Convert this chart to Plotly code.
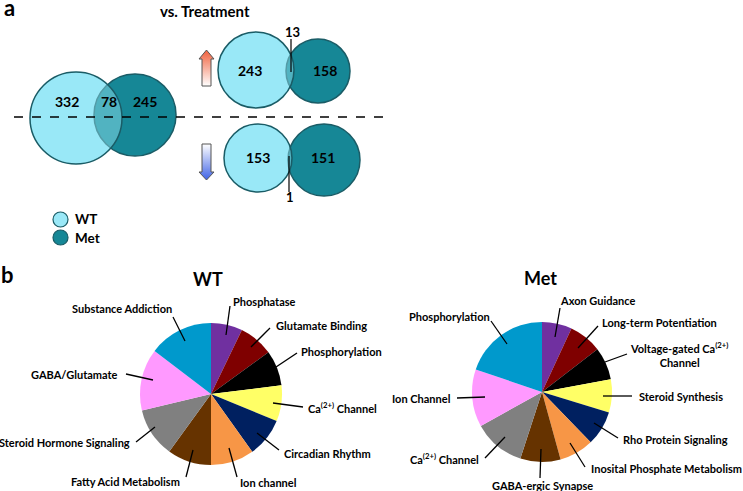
import plotly.graph_objects as go

# ---------------- data ----------------
group_names = ["WT", "Met"]
venn_all = [332, 78, 245]     # WT only, shared, Met only
venn_up = [243, 13, 158]
venn_down = [153, 1, 151]

wt_labels = ["Phosphatase", "Glutamate Binding", "Phosphorylation", "Ca<sup>(2+)</sup> Channel",
             "Circadian Rhythm", "Ion channel", "Fatty Acid Metabolism",
             "Steroid Hormone Signaling", "GABA/Glutamate", "Substance Addiction"]
wt_values = [25.8, 28.2, 29.0, 29.4, 32.1, 35.5, 36.0, 40.6, 50.8, 52.6]

met_labels = ["Axon Guidance", "Long-term Potentiation", "Voltage-gated Ca<sup>(2+)</sup><br>Channel",
              "Steroid Synthesis", "Rho Protein Signaling", "Inosital Phosphate Metabolism",
              "GABA-ergic Synapse", "Ca<sup>(2+)</sup> Channel", "Ion Channel", "Phosphorylation"]
met_values = [24.9, 27.4, 27.2, 27.5, 29.0, 28.6, 33.4, 43.0, 47.8, 71.2]

slice_colors = ["#7030A0", "#7F0000", "#000000", "#FFFF66", "#002060",
                "#F79646", "#663300", "#808080", "#FF99FF", "#0099CC"]

W, H = 743, 491
FONT = "Lato"
LIGHT = "#9AE8F7"
DARK = "#168796"
EDGE = "#1A5C66"

fig = go.Figure()

# ---------------- Venn circles ----------------
shapes = []
def venn(c1, r1, c2, r2):
    shapes.append(dict(type="circle", xref="x", yref="y", x0=c1[0]-r1, x1=c1[0]+r1, y0=c1[1]-r1, y1=c1[1]+r1,
                       fillcolor=LIGHT, line=dict(width=0), layer="below"))
    shapes.append(dict(type="circle", xref="x", yref="y", x0=c2[0]-r2, x1=c2[0]+r2, y0=c2[1]-r2, y1=c2[1]+r2,
                       fillcolor=DARK, line=dict(color=EDGE, width=1.5), layer="below"))
    shapes.append(dict(type="circle", xref="x", yref="y", x0=c1[0]-r1, x1=c1[0]+r1, y0=c1[1]-r1, y1=c1[1]+r1,
                       fillcolor="rgba(154,232,247,0.45)", line=dict(color=EDGE, width=1.5), layer="below"))

venn((76, 118), 46, (135, 115), 41)
venn((256, 70), 38, (318, 71), 32)
venn((258, 158), 34, (324, 160), 36)

shapes.append(dict(type="line", xref="x", yref="y", x0=14, x1=388, y0=117, y1=117,
                   line=dict(color="black", width=1.3, dash="dash")))
shapes.append(dict(type="line", xref="x", yref="y", x0=291, x1=291, y0=39, y1=72, line=dict(color="black", width=1.2)))
shapes.append(dict(type="line", xref="x", yref="y", x0=289, x1=289, y0=156, y1=192, line=dict(color="black", width=1.2)))

shapes.append(dict(type="circle", xref="x", yref="y", x0=53, x1=68, y0=212, y1=227,
                   fillcolor=LIGHT, line=dict(color=EDGE, width=1.2)))
shapes.append(dict(type="circle", xref="x", yref="y", x0=53, x1=68, y0=230, y1=245,
                   fillcolor=DARK, line=dict(color=EDGE, width=1.2)))

# ---------------- arrows (gradient) ----------------
up_x = [202, 202, 199, 206.5, 214, 211, 211, 202]
up_y = [86, 59, 59, 50, 59, 59, 86, 86]
fig.add_trace(go.Scatter(x=up_x, y=up_y, mode="lines", fill="toself",
                         line=dict(color="#555555", width=1),
                         fillgradient=dict(type="vertical", start=86, stop=50,
                                           colorscale=[[0, "#FFFFFF"], [1, "#F0603C"]]),
                         hoverinfo="skip", showlegend=False))
dn_x = [202, 202, 199, 206.5, 214, 211, 211, 202]
dn_y = [144, 172, 172, 180, 172, 172, 144, 144]
fig.add_trace(go.Scatter(x=dn_x, y=dn_y, mode="lines", fill="toself",
                         line=dict(color="#555555", width=1),
                         fillgradient=dict(type="vertical", start=144, stop=180,
                                           colorscale=[[0, "#FFFFFF"], [1, "#3F63E6"]]),
                         hoverinfo="skip", showlegend=False))

# ---------------- pies ----------------
def pie_domain(cx, cy, r):
    return dict(x=[(cx - r) / W, (cx + r) / W], y=[1 - (cy + r) / H, 1 - (cy - r) / H])

fig.add_trace(go.Pie(labels=wt_labels, values=wt_values, sort=False, direction="clockwise", rotation=0,
                     marker=dict(colors=slice_colors, line=dict(width=0)), textinfo="none",
                     domain=pie_domain(211, 394, 71), showlegend=False, hoverinfo="label"))
fig.add_trace(go.Pie(labels=met_labels, values=met_values, sort=False, direction="clockwise", rotation=0,
                     marker=dict(colors=slice_colors, line=dict(width=0)), textinfo="none",
                     domain=pie_domain(542, 392, 70), showlegend=False, hoverinfo="label"))

# ---------------- annotations ----------------
ann = []
def txt(x, y, s, size=11, anchor="center", color="black"):
    ann.append(dict(x=x, y=y, xref="x", yref="y", text="<b>" + s + "</b>", showarrow=False,
                    xanchor=anchor, yanchor="middle", font=dict(family=FONT, size=size, color=color)))

def leader(x0, y0, x1, y1):
    shapes.append(dict(type="line", xref="x", yref="y", x0=x0, y0=y0, x1=x1, y1=y1,
                       line=dict(color="black", width=1.3), layer="above"))

txt(9, 7, "a", size=22, anchor="center")
txt(7, 274, "b", size=22, anchor="center")
txt(205, 11, "vs. Treatment", size=15)

txt(67, 101, str(venn_all[0]), 14)
txt(109, 101, str(venn_all[1]), 14)
txt(145, 101, str(venn_all[2]), 14)
txt(250, 70, str(venn_up[0]), 14)
txt(292, 32, str(venn_up[1]), 13)
txt(325, 70, str(venn_up[2]), 14)
txt(258, 157, str(venn_down[0]), 14)
txt(290, 197, str(venn_down[1]), 13)
txt(323, 157, str(venn_down[2]), 14)

txt(73, 219, group_names[0], 13.5, "left")
txt(73, 238, group_names[1], 13.5, "left")

txt(208, 279, "WT", 18)
txt(540, 278, "Met", 18)

wt_pos = [(231, 301, "left"), (274, 325, "left"), (299, 351, "left"), (306, 407, "left"),
          (282, 453, "left"), (238, 482, "left"), (125, 481, "center"),
          (132, 442, "right"), (120, 374, "right"), (122, 308, "center")]
wt_lines = [((230, 306), (226, 335)), ((270, 328), (251, 347)), ((297, 353), (276, 367)),
            ((303, 407), (273, 403)), ((279, 450), (257, 433)), ((237, 477), (229, 448)),
            ((186, 477), (193, 450)), ((136, 442), (155, 427)), ((126, 374), (153, 380)),
            ((173, 317), (185, 341))]
for s, (x, y, a), (p0, p1) in zip(wt_labels, wt_pos, wt_lines):
    txt(x, y, s, 11, a)
    leader(p0[0], p0[1], p1[0], p1[1])

met_pos = [(558, 300, "left"), (600, 322, "left"), (628, 354, "left"), (637, 396, "left"),
           (621, 439, "left"), (589, 468, "left"), (542, 485, "center"),
           (481, 458, "right"), (453, 398, "right"), (449, 316, "center")]
met_lines = [((560, 308), (555, 337)), ((598, 326), (578, 348)), ((627, 354), (605, 362)),
             ((632, 396), (603, 396)), ((618, 438), (594, 423)), ((585, 467), (570, 443)),
             ((540, 478), (541, 449)), ((485, 458), (505, 437)), ((457, 398), (485, 397)),
             ((491, 321), (507, 344))]
for s, (x, y, a), (p0, p1) in zip(met_labels, met_pos, met_lines):
    txt(x, y, s, 11, a)
    leader(p0[0], p0[1], p1[0], p1[1])

fig.update_layout(
    width=W, height=H, margin=dict(l=0, r=0, t=0, b=0),
    paper_bgcolor="white", plot_bgcolor="white",
    xaxis=dict(range=[0, W], visible=False, fixedrange=True),
    yaxis=dict(range=[H, 0], visible=False, fixedrange=True),
    shapes=shapes, annotations=ann, showlegend=False,
)
fig.write_html("out.html", config={"displayModeBar": False},
               post_script="document.body.style.margin='0';document.body.style.overflow='hidden';")
